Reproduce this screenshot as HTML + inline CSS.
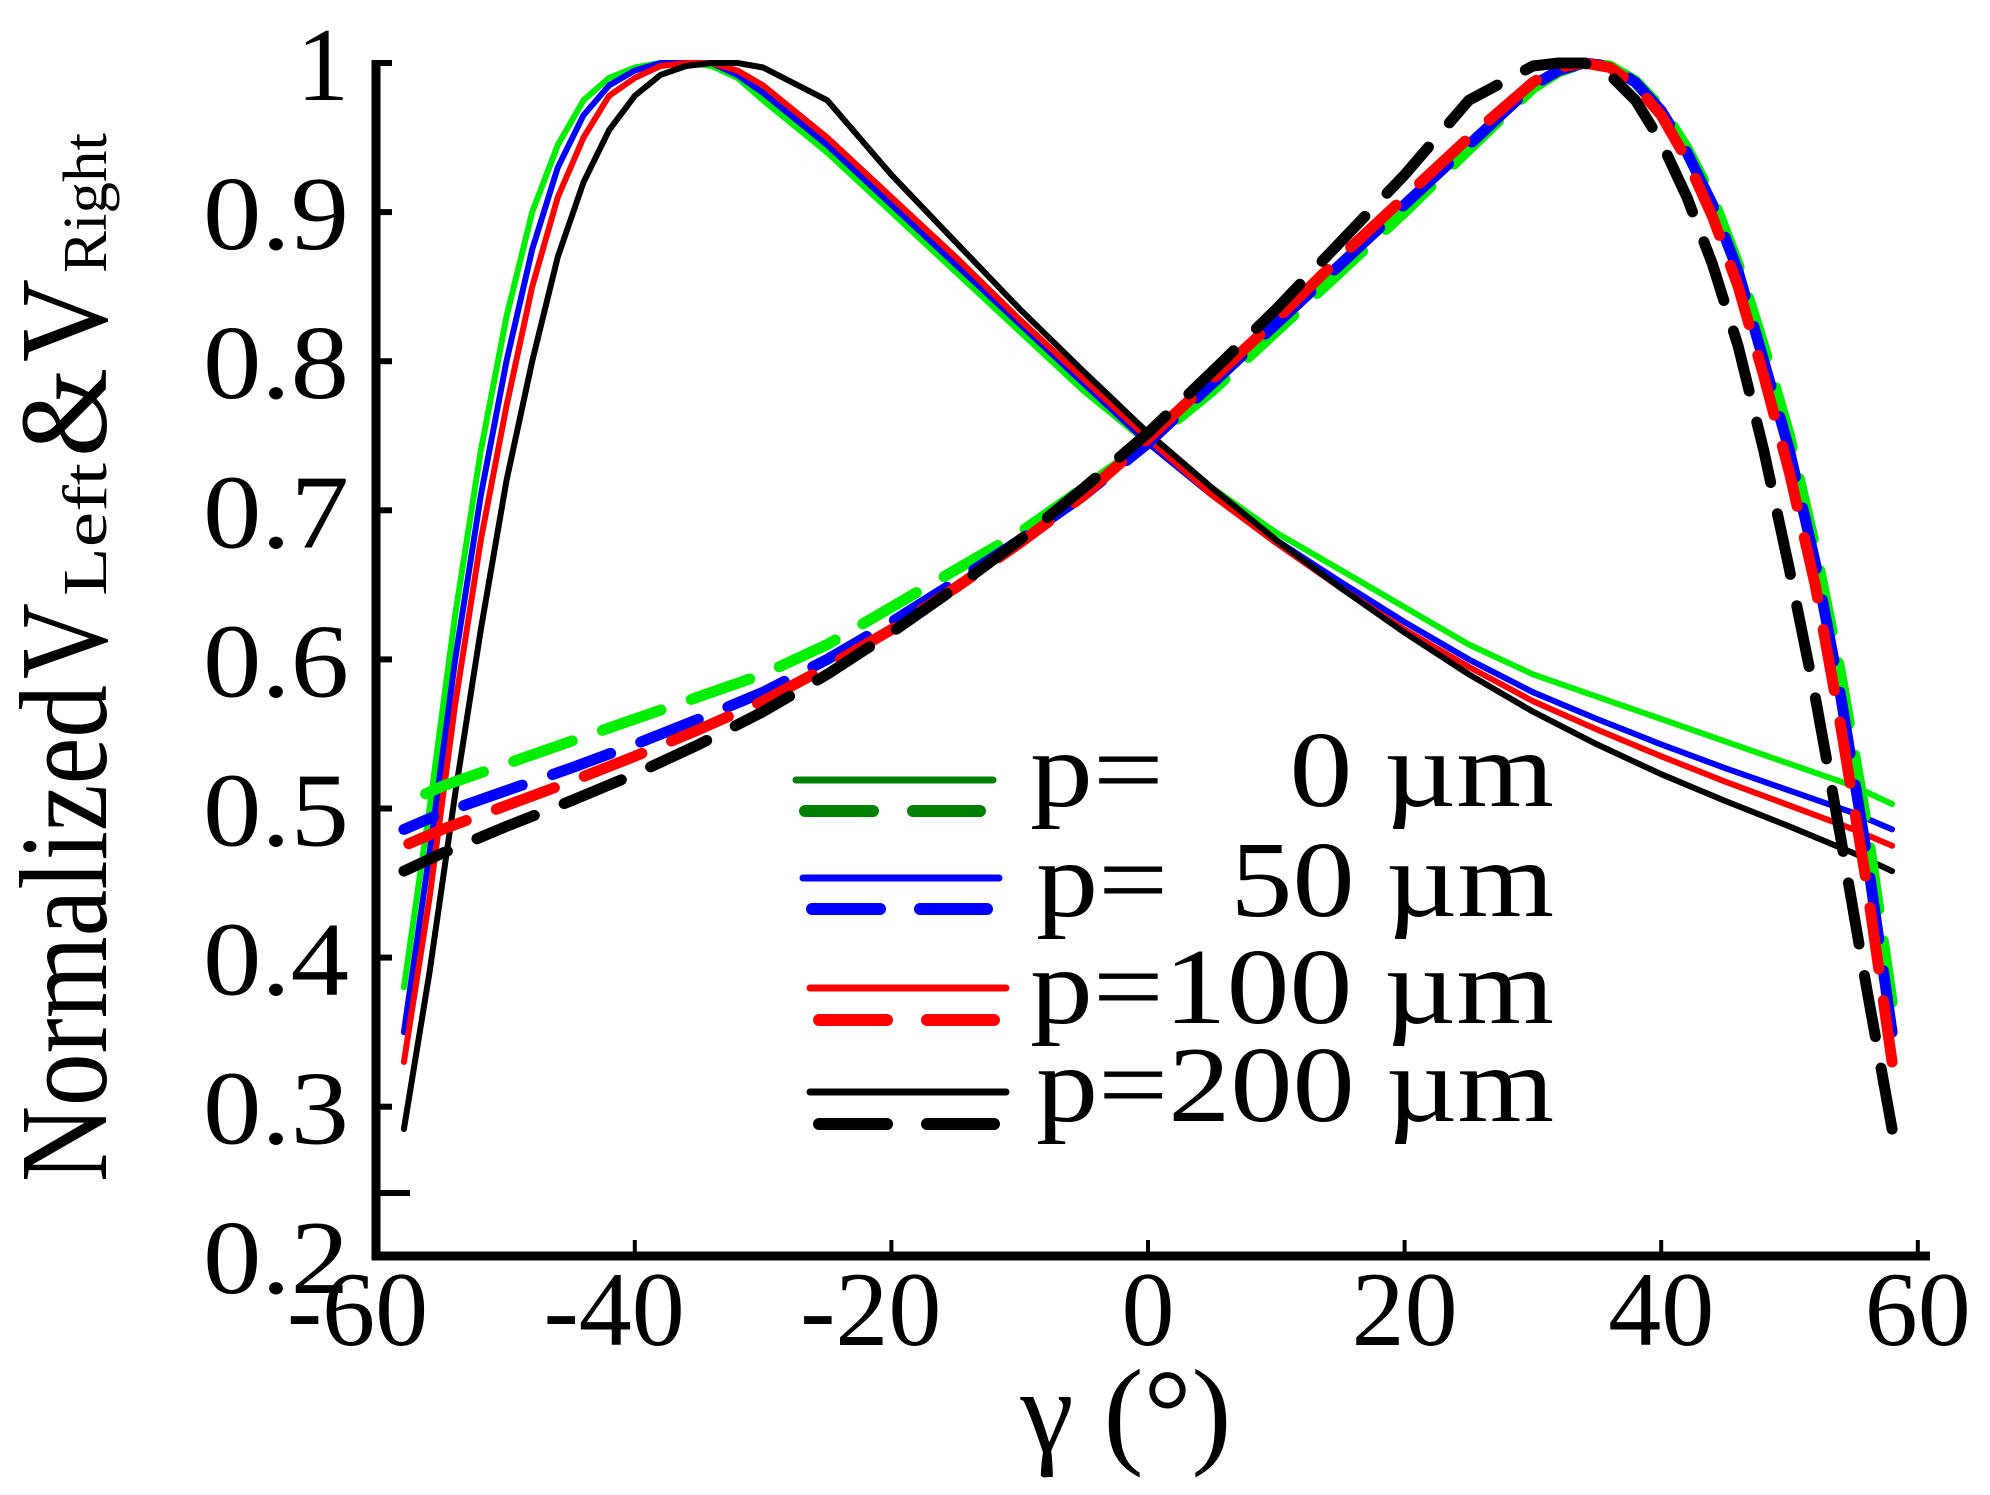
<!DOCTYPE html>
<html><head><meta charset="utf-8"><style>
html,body{margin:0;padding:0;background:#fff;}
svg{display:block;}
text{font-family:"Liberation Serif","Times New Roman",serif;fill:#000;}
</style></head><body>
<svg id="chart" width="1990" height="1495" viewBox="0 0 1990 1495" xmlns="http://www.w3.org/2000/svg" font-family="Liberation Serif, serif">
<g id="curves"></g>
<g id="axes"></g>
<g id="legend">
  <line x1="796" y1="780" x2="993" y2="780" stroke="#008000" stroke-width="7" stroke-linecap="round"/>
  <line x1="805" y1="811" x2="980" y2="811" stroke="#008000" stroke-width="12" stroke-linecap="round" stroke-dasharray="68 40"/>
  <line x1="803" y1="878" x2="999" y2="878" stroke="#0000ff" stroke-width="7" stroke-linecap="round"/>
  <line x1="812" y1="909" x2="987" y2="909" stroke="#0000ff" stroke-width="12" stroke-linecap="round" stroke-dasharray="68 40"/>
  <line x1="810" y1="988" x2="1006" y2="988" stroke="#ff0000" stroke-width="7" stroke-linecap="round"/>
  <line x1="819" y1="1020" x2="994" y2="1020" stroke="#ff0000" stroke-width="12" stroke-linecap="round" stroke-dasharray="68 40"/>
  <line x1="810" y1="1092" x2="1006" y2="1092" stroke="#000" stroke-width="7" stroke-linecap="round"/>
  <line x1="819" y1="1124" x2="994" y2="1124" stroke="#000" stroke-width="12" stroke-linecap="round" stroke-dasharray="68 40"/>
  <text x="1030" y="806" font-size="108" textLength="524" lengthAdjust="spacingAndGlyphs" xml:space="preserve">p=    0 µm</text>
  <text x="1036" y="916" font-size="108" textLength="518" lengthAdjust="spacingAndGlyphs" xml:space="preserve">p=  50 µm</text>
  <text x="1030" y="1023" font-size="108" textLength="524" lengthAdjust="spacingAndGlyphs">p=100 µm</text>
  <text x="1036" y="1121" font-size="108" textLength="518" lengthAdjust="spacingAndGlyphs">p=200 µm</text>
</g>
<g transform="translate(106,1182) rotate(-90)">
  <text x="0" y="0" font-size="125" textLength="497" lengthAdjust="spacingAndGlyphs">Normalized</text>
  <text x="503" y="0" font-size="125" textLength="76" lengthAdjust="spacingAndGlyphs">V</text>
  <text x="586" y="0" font-size="62" textLength="133" lengthAdjust="spacingAndGlyphs">Left</text>
  <text x="725" y="0" font-size="125" textLength="89" lengthAdjust="spacingAndGlyphs">&amp;</text>
  <text x="820" y="0" font-size="125" textLength="83" lengthAdjust="spacingAndGlyphs">V</text>
  <text x="909" y="0" font-size="62" textLength="140" lengthAdjust="spacingAndGlyphs">Right</text>
</g>
<text x="1126" y="1452" font-size="120" text-anchor="middle">γ (°)</text>
<script>
const angles = [-58,-56,-54,-52,-50,-48,-46,-44,-42,-40,-38,-36,-34,-32,-30,-25,-20,-15,-10,-5,0,5,10,15,20,25,30,35,40,45,50,55,58];
const anglesMirror = [58,56,54,52,50,48,46,44,42,40,38,36,34,32,30,25,20,15,10,5,0,-5,-10,-15,-20,-25,-30,-35,-40,-45,-50,-55,-58];
const leftP0 = [0.38,0.50,0.63,0.74,0.83,0.90,0.945,0.975,0.99,0.997,1.0,1.0,0.998,0.99,0.975,0.94,0.90,0.86,0.82,0.78,0.745,0.715,0.685,0.66,0.635,0.61,0.59,0.575,0.56,0.545,0.53,0.515,0.503];
const leftP50 = [0.35,0.47,0.60,0.71,0.80,0.875,0.93,0.965,0.985,0.995,1.0,1.0,1.0,0.992,0.98,0.945,0.905,0.865,0.825,0.785,0.745,0.71,0.68,0.652,0.625,0.60,0.578,0.56,0.543,0.527,0.512,0.497,0.486];
const leftP100 = [0.33,0.44,0.57,0.68,0.77,0.85,0.91,0.95,0.978,0.99,0.998,1.0,1.0,0.995,0.985,0.95,0.91,0.87,0.828,0.788,0.748,0.71,0.678,0.648,0.62,0.595,0.572,0.553,0.535,0.518,0.502,0.486,0.475];
const leftP200 = [0.285,0.39,0.51,0.62,0.72,0.80,0.87,0.92,0.955,0.978,0.992,0.998,1.0,1.0,0.997,0.975,0.925,0.88,0.835,0.793,0.752,0.715,0.68,0.648,0.618,0.59,0.565,0.543,0.523,0.505,0.488,0.47,0.458];
const rightP0 = [0.37,0.49,0.59,0.675,0.75,0.81,0.865,0.91,0.943,0.97,0.988,0.998,1.0,0.994,0.983,0.942,0.90,0.86,0.82,0.78,0.745,0.715,0.685,0.66,0.635,0.61,0.59,0.575,0.56,0.545,0.53,0.515,0.503];
const rightP50 = [0.35,0.47,0.575,0.665,0.74,0.80,0.86,0.905,0.94,0.968,0.987,0.998,1.0,0.995,0.985,0.945,0.905,0.865,0.825,0.785,0.745,0.71,0.68,0.652,0.625,0.60,0.578,0.56,0.543,0.527,0.512,0.497,0.486];
const rightP100 = [0.33,0.45,0.555,0.65,0.725,0.79,0.85,0.897,0.935,0.965,0.985,0.997,1.0,0.997,0.987,0.95,0.91,0.87,0.828,0.788,0.748,0.71,0.678,0.648,0.62,0.595,0.572,0.553,0.535,0.518,0.502,0.486,0.475];
const rightP200 = [0.285,0.38,0.48,0.575,0.66,0.74,0.81,0.865,0.91,0.947,0.975,0.992,1.0,1.0,0.998,0.975,0.925,0.88,0.835,0.793,0.752,0.715,0.68,0.648,0.618,0.59,0.565,0.543,0.523,0.505,0.488,0.47,0.458];
const xTicks = [-60,-40,-20,0,20,40,60];
const xTickLabels = ["-60","-40","-20","0","20","40","60"];
const yTicks = [0.3,0.4,0.5,0.6,0.7,0.8,0.9,1.0];
const yTickLabels = ["0.2","0.3","0.4","0.5","0.6","0.7","0.8","0.9","1"];
const yLabelValues = [0.2,0.3,0.4,0.5,0.6,0.7,0.8,0.9,1.0];

const NS = "http://www.w3.org/2000/svg";
function xs(g){ return 1148 + g * 12.83; }
function ys(v){ return 63 + (1 - v) * 1491; }
function mk(tag, attrs, parent){
  const e = document.createElementNS(NS, tag);
  for (const k in attrs) e.setAttribute(k, attrs[k]);
  parent.appendChild(e);
  return e;
}
const curves = document.getElementById('curves');
function path(xsArr, vals){
  return vals.map((v,i)=> (i?'L':'M') + xs(xsArr[i]).toFixed(1) + ',' + ys(v).toFixed(1)).join(' ');
}
const series = [
  [leftP0, angles, '#00ee00', false, 'curve-left-p0'],
  [leftP50, angles, '#0000ff', false, 'curve-left-p50'],
  [leftP100, angles, '#ff0000', false, 'curve-left-p100'],
  [leftP200, angles, '#000000', false, 'curve-left-p200'],
  [rightP0, anglesMirror, '#00ee00', true, 'curve-right-p0'],
  [rightP50, anglesMirror, '#0000ff', true, 'curve-right-p50'],
  [rightP100, anglesMirror, '#ff0000', true, 'curve-right-p100'],
  [rightP200, anglesMirror, '#000000', true, 'curve-right-p200']
];
series.forEach(s => {
  const p = mk('path', {d: path(s[1], s[0]), fill:'none', stroke:s[2], 'stroke-width': s[3]?11:6, 'stroke-linecap':'round', 'stroke-linejoin':'round'}, curves);
  if (s[3]) p.setAttribute('stroke-dasharray', '62 32');
  
  
});
const axes = document.getElementById('axes');
const yAxis = mk('line', {x1:376, y1:60, x2:376, y2:1260, stroke:'#000', 'stroke-width':9}, axes);


const xAxis = mk('line', {x1:372, y1:1256, x2:1930, y2:1256, stroke:'#000', 'stroke-width':9}, axes);


yTicks.forEach(v => {
  const t = mk('line', {x1:376, y1:ys(v), x2:392, y2:ys(v), stroke:'#000', 'stroke-width':6}, axes);
  
  
});
const extra = mk('line', {x1:376, y1:1193, x2:410, y2:1193, stroke:'#000', 'stroke-width':6}, axes);


yLabelValues.forEach((v,i) => {
  const lab = yTickLabels[i];
  const t = mk('text', {x:349, y:ys(v)+37, 'font-size':105, 'text-anchor':'end'}, axes);
  if (lab.length > 1) { t.setAttribute('textLength', 146); t.setAttribute('lengthAdjust', 'spacingAndGlyphs'); }
  t.textContent = lab;
  
  
});
xTicks.forEach((g,i) => {
  const t = mk('line', {x1:xs(g), y1:1256, x2:xs(g), y2:1240, stroke:'#000', 'stroke-width':4}, axes);
  
  
  const lab = xTickLabels[i];
  const anchor = lab.charAt(0) === '-' ? 'end' : 'middle';
  const xx = lab.charAt(0) === '-' ? xs(g) + 50 : xs(g);
  const tx = mk('text', {x:xx, y:1345, 'font-size':106, 'text-anchor':anchor}, axes);
  tx.textContent = lab;
  
  
});
</script>
</svg>
</body></html>
